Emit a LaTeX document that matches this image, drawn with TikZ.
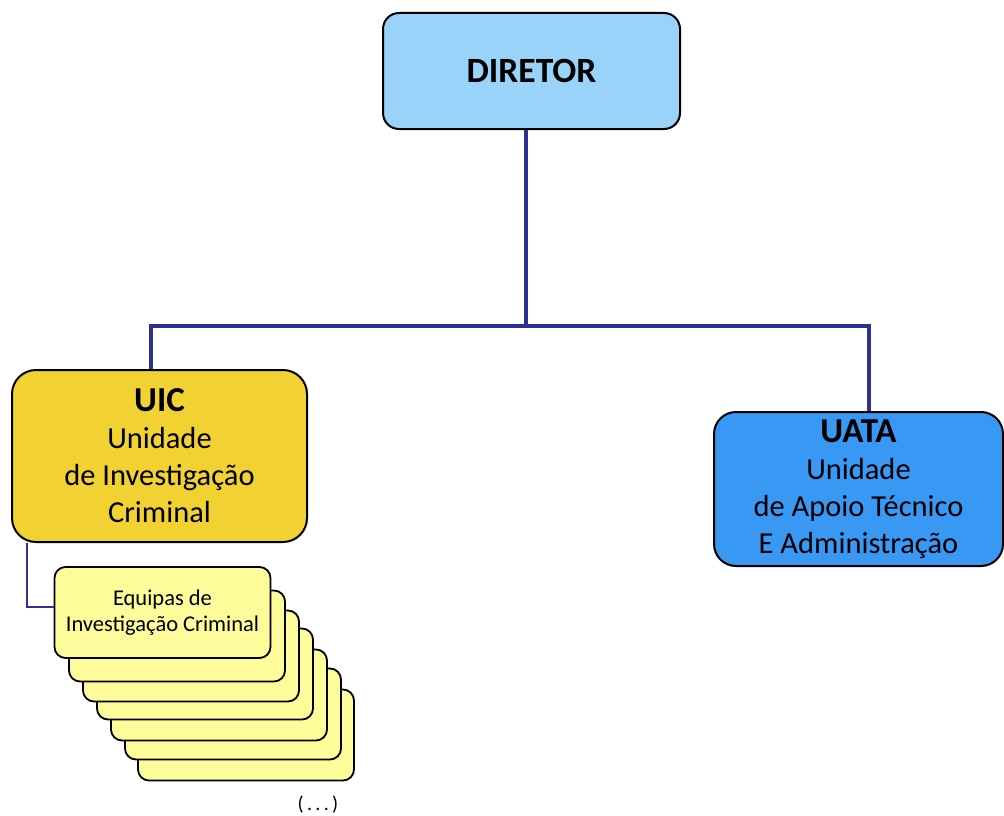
\documentclass[tikz,border=0pt]{standalone}
\usepackage{fontspec}
\setmainfont{Carlito}
\definecolor{dirblue}{HTML}{99D3FA}
\definecolor{uicgold}{HTML}{F2D232}
\definecolor{uatablue}{HTML}{3A98F5}
\definecolor{teamyel}{HTML}{FCFC9A}
\definecolor{linkblue}{HTML}{2E3192}
\begin{document}
\begin{tikzpicture}[x=1pt,y=-1pt,
  box/.style={draw=black, line width=2pt, rounded corners=16pt, align=center, inner sep=0pt},
  team/.style={draw=black, line width=1.8pt, rounded corners=11pt, fill=teamyel, minimum width=216pt, minimum height=91pt, inner sep=0pt, align=center},
  link/.style={draw=linkblue, line width=4pt},
  thinlink/.style={draw=linkblue, line width=2pt}]
\useasboundingbox (0,0) rectangle (1004,816);
% boxes
\node[box, fill=dirblue, minimum width=297pt, minimum height=116pt, font=\fontsize{35.5}{40}\selectfont\bfseries] (dir) at (531.5,71) {DIRETOR};
\node[box, fill=uicgold, minimum width=295pt, minimum height=172pt, rounded corners=24pt, font=\fontsize{30.5}{37}\selectfont] (uic) at (159.5,456) {\textbf{\fontsize{35}{37}\selectfont UIC}\\Unidade\\de Investigação\\Criminal};
\node[box, fill=uatablue, minimum width=289pt, minimum height=154pt, rounded corners=22pt, font=\fontsize{30.5}{37}\selectfont] (uata) at (858.5,489) {\textbf{\fontsize{35}{37}\selectfont UATA}\\Unidade\\de Apoio Técnico\\E Administração};
% stacked team boxes
\node[team] (s7) at (246,735) {};
\node[team] (s6) at (233,714) {};
\node[team] (s5) at (219,695) {};
\node[team] (s4) at (205,674) {};
\node[team] (s3) at (191,656) {};
\node[team] (s2) at (177,636) {};
\node[team, font=\fontsize{22.5}{26}\selectfont] (s1) at (162.5,612.5) {Equipas de\\Investigação Criminal};
\node[font=\fontsize{20}{22}\selectfont] (etc) at (318,805) {(\,.\,.\,.\,)};
% connectors
\coordinate (jc) at (526,326);
\coordinate (jl) at (151,326);
\coordinate (jr) at (869,326);
\coordinate (cx) at (27,607);
\draw[link] (jc |- dir.south) -- (jc);
\draw[link, line cap=rect] (jl) -- (jr);
\draw[link] (jl) -- (jl |- uic.north);
\draw[link] (jr) -- (jr |- uata.north);
\draw[thinlink] (cx |- uic.south) -- (cx) -- (cx -| s1.west);
\end{tikzpicture}
\end{document}
